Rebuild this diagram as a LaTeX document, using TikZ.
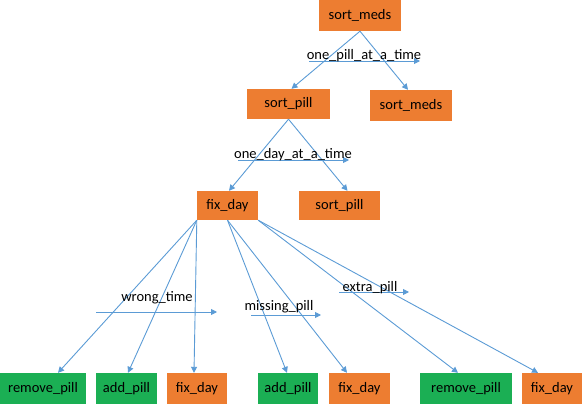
\documentclass[tikz,border=0pt]{standalone}
\usepackage{fontspec}
\setmainfont{Carlito}
\usetikzlibrary{arrows.meta,calc}
\definecolor{boxorange}{HTML}{ED7D31}
\definecolor{boxgreen}{HTML}{1BAF54}
\definecolor{linkblue}{HTML}{5B9BD5}
\begin{document}
\begin{tikzpicture}[x=1pt,y=-1pt,
  obox/.style={fill=boxorange,draw=none,inner sep=0pt,minimum height=30pt,font=\fontsize{14.5}{17}\selectfont},
  gbox/.style={fill=boxgreen,draw=none,inner sep=0pt,minimum height=31pt,font=\fontsize{14.5}{17}\selectfont},
  link/.style={draw=linkblue,line width=0.9pt,-{Triangle[width=6pt,length=6pt]}},
  lbl/.style={inner sep=0pt,font=\fontsize{14.5}{17}\selectfont}]
\useasboundingbox (0,0) rectangle (582,404);
% boxes
\node[obox,minimum width=82pt,minimum height=31pt] (sm1) at (360,15.5) {sort\_meds};
\node[obox,minimum width=83pt] (sp1) at (288.5,104) {sort\_pill};
\node[obox,minimum width=82pt,minimum height=31pt] (sm2) at (411,105.5) {sort\_meds};
\node[obox,minimum width=61pt,minimum height=29pt] (fd1) at (227.5,205.5) {fix\_day};
\node[obox,minimum width=81pt,minimum height=29pt] (sp2) at (339.5,205.5) {sort\_pill};
\node[gbox,minimum width=86pt] (rp1) at (43,388.5) {remove\_pill};
\node[gbox,minimum width=61pt] (ap1) at (126.5,388.5) {add\_pill};
\node[obox,minimum width=60pt,minimum height=31pt] (fd2) at (197,388.5) {fix\_day};
\node[gbox,minimum width=60pt] (ap2) at (288,388.5) {add\_pill};
\node[obox,minimum width=61pt,minimum height=31pt] (fd3) at (359.5,388.5) {fix\_day};
\node[gbox,minimum width=92pt] (rp2) at (466,388.5) {remove\_pill};
\node[obox,minimum width=60pt,minimum height=31pt] (fd4) at (552,388.5) {fix\_day};
% tree connectors
\draw[link] (sm1.south) -- ([xshift=3pt]sp1.north);
\draw[link] (sm1.south) -- ([xshift=-3pt]sm2.north);
\draw[link] (sp1.south) -- ([xshift=1.5pt]fd1.north);
\draw[link] (sp1.south) -- ([xshift=8pt]sp2.north);
\draw[link] (fd1.south west) -- ([xshift=15pt]rp1.north);
\draw[link] (fd1.south west) -- ([xshift=1.5pt]ap1.north);
\draw[link] (fd1.south west) -- ([xshift=-3pt]fd2.north);
\draw[link] (fd1.south) -- ([xshift=-1pt]ap2.north);
\draw[link] (fd1.south) -- ([xshift=-12.5pt]fd3.north);
\draw[link] (fd1.south east) -- ([xshift=-8pt]rp2.north);
\draw[link] (fd1.south east) -- ([xshift=-14pt]fd4.north);
% label arrows
\coordinate (a1s) at (309,61); \coordinate (a1e) at (420,61);
\draw[link] (a1s) -- (a1e);
\node[lbl] (l1) at (364,56) {one\_pill\_at\_a\_time};
\coordinate (a2s) at (238,160); \coordinate (a2e) at (349,160);
\draw[link] (a2s) -- (a2e);
\node[lbl] (l2) at (293,155) {one\_day\_at\_a\_time};
\coordinate (a3s) at (96,312); \coordinate (a3e) at (217,312);
\draw[link] (a3s) -- (a3e);
\node[lbl] (l3) at (157,298) {wrong\_time};
\coordinate (a4s) at (251,315); \coordinate (a4e) at (321,315);
\draw[link] (a4s) -- (a4e);
\node[lbl] (l4) at (279,307) {missing\_pill};
\coordinate (a5s) at (339,292); \coordinate (a5e) at (409,292);
\draw[link] (a5s) -- (a5e);
\node[lbl] (l5) at (370,288) {extra\_pill};
\end{tikzpicture}
\end{document}
